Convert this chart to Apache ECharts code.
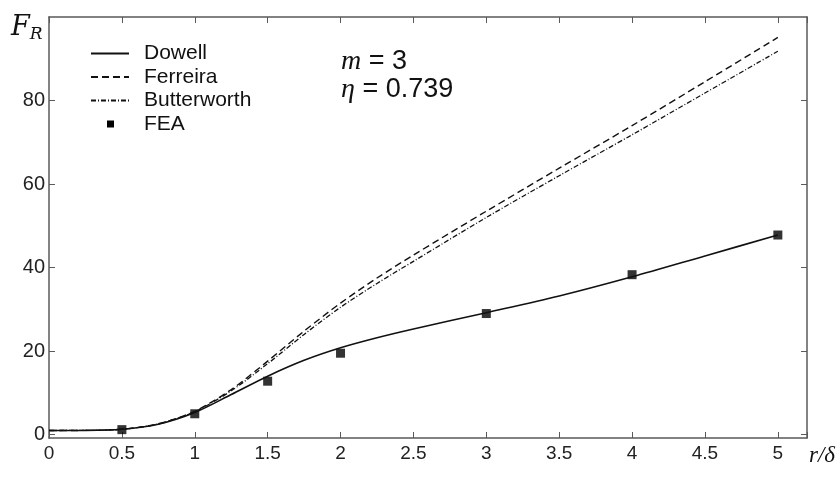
<!DOCTYPE html>
<html>
<head>
<meta charset="utf-8">
<script src="https://cdn.jsdelivr.net/npm/echarts@6/dist/echarts.min.js"></script>
<style>
  html, body { margin: 0; padding: 0; background: #fff; }
  #main { width: 836px; height: 479px; }
</style>
</head>
<body>
<div id="main"></div>
<script>
// r/delta values of the curves
let rDelta = [0, 0.25, 0.5, 0.75, 1, 1.25, 1.5, 1.75, 2, 2.25, 2.5, 3, 3.5, 4, 4.5, 5]
let dowell = [1, 1.02, 1.3, 2.5, 5.3, 9.6, 14, 17.8, 20.8, 23.2, 25.3, 29.2, 33.2, 37.8, 42.8, 47.8]
let ferreira = [1, 1.02, 1.3, 2.6, 5.6, 10.8, 17.6, 24.8, 31.5, 37.5, 43, 53.5, 63.8, 74, 84.5, 95.1]
let butterworth = [1, 1.02, 1.3, 2.6, 5.5, 10.5, 17, 24, 30.5, 36.2, 41.5, 52, 62, 71.8, 81.8, 91.8]
// FEA points
let feaX = [0.5, 1, 1.5, 2, 3, 4, 5]
let feaY = [1.2, 5, 12.8, 19.5, 29, 38.3, 47.8]
// axis ticks
let yTicks = [0, 20, 40, 60, 80]

function pairs(xs, ys) {
    return xs.map((x, i) => [x, ys[i]])
}

let chart = echarts.init(document.getElementById('main'))
let frameColor = '#5a5a5a'
let tickFont = 'Liberation Sans Narrow, Liberation Sans, Arial, sans-serif'

let xBase = {
    type: 'value', min: 0, max: 5.2, interval: 0.5,
    axisLine: { show: true, onZero: false, lineStyle: { color: frameColor, width: 1.5 } },
    axisTick: { show: true, inside: true, length: 6, lineStyle: { color: frameColor } },
    splitLine: { show: false }
}
let yBase = {
    type: 'value', min: -0.8, max: 100,
    axisLine: { show: true, onZero: false, lineStyle: { color: frameColor, width: 1.5 } },
    axisTick: { show: true, inside: true, length: 6, customValues: yTicks, lineStyle: { color: frameColor } },
    splitLine: { show: false }
}

let option = {
    animation: false,
    backgroundColor: '#fff',
    grid: { left: 49, right: 29, top: 17, bottom: 41 },
    xAxis: [
        Object.assign({}, xBase, {
            position: 'bottom',
            axisLabel: {
                color: '#222', fontSize: 19, fontFamily: tickFont, margin: 6,
                formatter: v => v > 5.01 ? '' : String(v)
            }
        }),
        Object.assign({}, xBase, { position: 'top', axisLabel: { show: false } })
    ],
    yAxis: [
        Object.assign({}, yBase, {
            position: 'left',
            axisLabel: {
                color: '#222', fontSize: 20, fontFamily: 'Liberation Sans, Arial, sans-serif', margin: 4,
                customValues: yTicks
            }
        }),
        Object.assign({}, yBase, { position: 'right', axisLabel: { show: false } })
    ],
    legend: {
        orient: 'vertical', left: 90, top: 43,
        itemWidth: 38, itemHeight: 12, itemGap: 2.5, padding: 0,
        itemStyle: { opacity: 0 },
        textStyle: { fontSize: 21, lineHeight: 20, color: '#111', fontFamily: 'Liberation Sans, Arial, sans-serif', padding: [0, 0, 0, 10] },
        data: [
            { name: 'Dowell', icon: 'inherit' },
            { name: 'Ferreira', icon: 'inherit' },
            { name: 'Butterworth', icon: 'inherit' },
            { name: 'FEA', icon: 'path://M0,0M38,12M16,2.5h7v7h-7z', itemStyle: { opacity: 1, color: '#000' } }
        ]
    },
    series: [
        {
            name: 'Dowell', type: 'line', smooth: 0.3, symbol: 'none',
            itemStyle: { color: '#111' },
            lineStyle: { color: '#111', width: 1.6, type: 'solid' },
            data: pairs(rDelta, dowell)
        },
        {
            name: 'Ferreira', type: 'line', smooth: 0.3, symbol: 'none',
            itemStyle: { color: '#111' },
            lineStyle: { color: '#111', width: 1.4, type: [7, 4] },
            data: pairs(rDelta, ferreira)
        },
        {
            name: 'Butterworth', type: 'line', smooth: 0.3, symbol: 'none',
            itemStyle: { color: '#111' },
            lineStyle: { color: '#111', width: 1.3, type: [5, 2, 1, 2] },
            data: pairs(rDelta, butterworth)
        },
        {
            name: 'FEA', type: 'scatter', symbol: 'rect', symbolSize: 9,
            itemStyle: { color: '#000' },
            data: pairs(feaX, feaY)
        }
    ],
    graphic: [
        {
            type: 'text', left: 11, top: 14,
            style: {
                text: '{f|F}{s|R}',
                rich: {
                    f: { fontFamily: 'DejaVu Serif, Liberation Serif, serif', fontStyle: 'italic', fontSize: 27, fill: '#111' },
                    s: { fontFamily: 'DejaVu Serif, Liberation Serif, serif', fontStyle: 'italic', fontSize: 17, fill: '#111', padding: [14, 0, 0, 0] }
                }
            }
        },
        {
            type: 'text', left: 341, top: 48,
            style: {
                text: '{i|m} = 3',
                font: '27px Liberation Sans, Arial, sans-serif', fill: '#111',
                rich: { i: { fontFamily: 'Liberation Serif, serif', fontStyle: 'italic', fontSize: 28, fill: '#111' } }
            }
        },
        {
            type: 'text', left: 341, top: 76,
            style: {
                text: '{i|η} = 0.739',
                font: '27px Liberation Sans, Arial, sans-serif', fill: '#111',
                rich: { i: { fontFamily: 'Liberation Serif, serif', fontStyle: 'italic', fontSize: 28, fill: '#111' } }
            }
        },
        {
            type: 'text', right: 1, top: 444,
            style: {
                text: 'r/δ',
                font: 'italic 23px Liberation Serif, serif', fill: '#111'
            }
        }
    ]
}
chart.setOption(option)
</script>
</body>
</html>
